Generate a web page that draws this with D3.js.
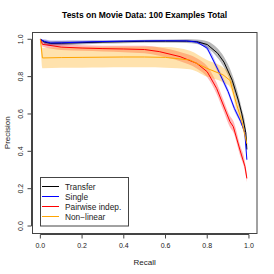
<!DOCTYPE html>
<html>
<head>
<meta charset="utf-8">
<script src="https://cdn.jsdelivr.net/npm/d3@7"></script>
<style>
  body { margin: 0; background: #fff; }
  svg { display: block; font-family: "Liberation Sans", Arial, sans-serif; }
</style>
</head>
<body>
<div id="chart"></div>
<script>
// data
var title = "Tests on Movie Data: 100 Examples Total";
var xTicks = [0, 0.2, 0.4, 0.6, 0.8, 1.0];
var yTicks = [0, 0.2, 0.4, 0.6, 0.8, 1.0];

var transferRecall = [0, 0.02, 0.05, 0.1, 0.2, 0.3, 0.4, 0.5, 0.6, 0.7, 0.75, 0.8, 0.85, 0.88, 0.92, 0.95, 0.965, 0.985, 0.99];
var transferPrec   = [1.0, 0.985, 0.978, 0.979, 0.982, 0.985, 0.987, 0.989, 0.99, 0.99, 0.987, 0.972, 0.925, 0.878, 0.78, 0.67, 0.605, 0.5, 0.41];
var transferBand   = [0.005, 0.01, 0.012, 0.012, 0.01, 0.008, 0.008, 0.008, 0.008, 0.01, 0.012, 0.018, 0.025, 0.028, 0.03, 0.03, 0.025, 0.02, 0.015];

var singleRecall = [0, 0.02, 0.05, 0.1, 0.2, 0.3, 0.4, 0.5, 0.6, 0.7, 0.75, 0.8, 0.85, 0.9, 0.93, 0.96, 0.98, 0.99];
var singlePrec   = [1.0, 0.988, 0.98, 0.981, 0.985, 0.988, 0.99, 0.991, 0.992, 0.991, 0.985, 0.952, 0.84, 0.72, 0.63, 0.56, 0.5, 0.355];
var singleBand   = [0.005, 0.012, 0.013, 0.012, 0.008, 0.006, 0.005, 0.005, 0.005, 0.006, 0.008, 0.012, 0.015, 0.015, 0.015, 0.012, 0.012, 0.01];

var pairRecall = [0, 0.01, 0.1, 0.2, 0.3, 0.4, 0.5, 0.57, 0.67, 0.75, 0.8, 0.845, 0.877, 0.909, 0.925, 0.957, 0.981, 0.99];
var pairPrec   = [1.0, 0.973, 0.958, 0.953, 0.95, 0.948, 0.945, 0.934, 0.907, 0.871, 0.826, 0.737, 0.648, 0.559, 0.532, 0.407, 0.318, 0.255];
var pairBand   = [0.005, 0.012, 0.015, 0.015, 0.015, 0.017, 0.02, 0.022, 0.025, 0.028, 0.03, 0.03, 0.03, 0.03, 0.03, 0.028, 0.025, 0.02];

var nonlinRecall = [0, 0.01, 0.1, 0.2, 0.3, 0.4, 0.5, 0.6, 0.717, 0.797, 0.875, 0.909, 0.941, 0.965, 0.99];
var nonlinPrec   = [1.0, 0.9, 0.902, 0.903, 0.904, 0.905, 0.905, 0.903, 0.889, 0.845, 0.81, 0.78, 0.65, 0.565, 0.44];
var nonlinBand   = [0.0, 0.055, 0.055, 0.055, 0.055, 0.055, 0.055, 0.055, 0.05, 0.045, 0.04, 0.035, 0.03, 0.025, 0.02];

var seriesNames  = ["Transfer", "Single", "Pairwise indep.", "Non\u2212linear"];
var seriesColors = ["#000000", "#0000ff", "#ff0000", "#ffa500"];
var bandColors   = ["rgba(0,0,0,0.28)", "rgba(0,0,255,0.25)", "rgba(255,0,0,0.28)", "rgba(255,165,0,0.32)"];

var W = 274, H = 274;
var svg = d3.select("#chart").append("svg").attr("width", W).attr("height", H);

var x = d3.scaleLinear().domain([-0.04, 1.04]).range([32, 257.3]);
var y = d3.scaleLinear().domain([-0.04, 1.04]).range([233.5, 31.8]);

var series = [
  { r: transferRecall, p: transferPrec, b: transferBand },
  { r: singleRecall, p: singlePrec, b: singleBand },
  { r: pairRecall, p: pairPrec, b: pairBand },
  { r: nonlinRecall, p: nonlinPrec, b: nonlinBand }
].map(function(s, i) {
  return {
    color: seriesColors[i],
    band: bandColors[i],
    pts: s.r.map(function(v, j) { return { r: v, p: s.p[j], b: s.b[j] }; })
  };
});

var plot = svg.append("g");

var area = d3.area()
  .x(function(d) { return x(d.r); })
  .y0(function(d) { return y(d.p - d.b); })
  .y1(function(d) { return y(Math.min(1, d.p + d.b)); })
  .curve(d3.curveMonotoneX);

var line = d3.line()
  .x(function(d) { return x(d.r); })
  .y(function(d) { return y(d.p); })
  .curve(d3.curveLinear);

series.forEach(function(s) {
  plot.append("path").datum(s.pts)
    .attr("fill", s.band).attr("stroke", "none").attr("d", area);
});
series.forEach(function(s) {
  plot.append("path").datum(s.pts)
    .attr("fill", "none").attr("stroke", s.color)
    .attr("stroke-width", 1).attr("stroke-linejoin", "round")
    .attr("d", line);
});

// box
svg.append("rect")
  .attr("x", 32.5).attr("y", 32.5)
  .attr("width", 224.5).attr("height", 201)
  .attr("fill", "none").attr("stroke", "#444").attr("stroke-width", 1);

// x axis (R style)
var xa = svg.append("g").attr("transform", "translate(0,234.5)");
xa.append("line").attr("x1", x(0)).attr("x2", x(1)).attr("stroke", "#444");
xa.selectAll(".t").data(xTicks).enter().append("line")
  .attr("x1", function(d) { return x(d); }).attr("x2", function(d) { return x(d); })
  .attr("y1", 0).attr("y2", 4).attr("stroke", "#444");
xa.selectAll("text").data(xTicks).enter().append("text")
  .attr("x", function(d) { return x(d); }).attr("y", 13)
  .attr("text-anchor", "middle").attr("font-size", 7).attr("fill", "#222")
  .text(function(d) { return d3.format(".1f")(d); });

// y axis
var ya = svg.append("g").attr("transform", "translate(31.5,0)");
ya.append("line").attr("y1", y(0)).attr("y2", y(1)).attr("stroke", "#444");
ya.selectAll(".t").data(yTicks).enter().append("line")
  .attr("y1", function(d) { return y(d); }).attr("y2", function(d) { return y(d); })
  .attr("x1", 0).attr("x2", -4).attr("stroke", "#444");
ya.selectAll("text").data(yTicks).enter().append("text")
  .attr("transform", function(d) { return "translate(-9," + y(d) + ") rotate(-90)"; })
  .attr("text-anchor", "middle").attr("font-size", 7).attr("fill", "#222")
  .text(function(d) { return d3.format(".1f")(d); });

// labels
svg.append("text").attr("x", 144.6).attr("y", 18)
  .attr("text-anchor", "middle").attr("font-size", 8.5).attr("font-weight", "bold")
  .text(title);
svg.append("text").attr("x", 144.6).attr("y", 265)
  .attr("text-anchor", "middle").attr("font-size", 8).attr("fill", "#222")
  .text("Recall");
svg.append("text").attr("transform", "translate(10,132.7) rotate(-90)")
  .attr("text-anchor", "middle").attr("font-size", 8).attr("fill", "#222")
  .text("Precision");

// legend
var lg = svg.append("g");
lg.append("rect").attr("x", 40.5).attr("y", 177.5).attr("width", 88).attr("height", 48.5)
  .attr("fill", "#fff").attr("stroke", "#444");
seriesNames.forEach(function(n, i) {
  var yy = 186.5 + i * 10;
  lg.append("line").attr("x1", 42).attr("x2", 59).attr("y1", yy).attr("y2", yy)
    .attr("stroke", seriesColors[i]).attr("stroke-width", 1);
  lg.append("text").attr("x", 65).attr("y", yy + 3).attr("font-size", 8.3).attr("fill", "#222").text(n);
});
</script>
</body>
</html>
